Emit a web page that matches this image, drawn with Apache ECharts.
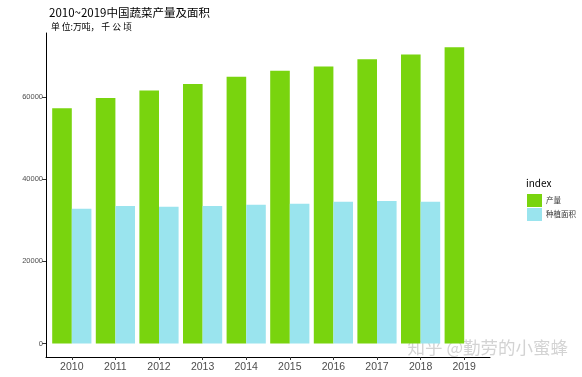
<!DOCTYPE html>
<html><head><meta charset="utf-8">
<script src="https://cdn.jsdelivr.net/npm/echarts@6/dist/echarts.min.js"></script>
<style>html,body{margin:0;padding:0;background:#fff}#c{width:582px;height:377px}</style>
</head><body><div id="c"></div>
<script>
const years = ['2010','2011','2012','2013','2014','2015','2016','2017','2018','2019'];
const output = [57265, 59767, 61625, 63198, 64949, 66425, 67434, 69193, 70347, 72103];
const area = [32800, 33500, 33300, 33500, 33800, 34000, 34500, 34700, 34500, null];
const yTicks = [0, 20000, 40000, 60000];
const seriesNames = ['产量', '种植面积'];

const chart = echarts.init(document.getElementById('c'), null, {renderer: 'canvas'});
const font = '"Noto Sans CJK SC", "DejaVu Sans", sans-serif';
chart.setOption({
  backgroundColor: '#fff',
  animation: false,
  title: [
    {text: '2010~2019中国蔬菜产量及面积', left: 44, top: 2,
     textStyle: {fontSize: 11.5, fontWeight: 'normal', color: '#000', fontFamily: font}},
    {text: '单 位:万吨， 千 公 顷', left: 46, top: 17,
     textStyle: {fontSize: 8.8, fontWeight: 'normal', color: '#000', fontFamily: font}},
    {text: 'index', left: 521, top: 173,
     textStyle: {fontSize: 10, fontWeight: 'normal', color: '#000', fontFamily: font}}
  ],
  legend: {
    orient: 'vertical', left: 522, top: 189, itemWidth: 15, itemHeight: 13, itemGap: 1,
    icon: 'rect', data: seriesNames,
    textStyle: {fontSize: 7.5, color: '#333', fontFamily: font, padding: [0,0,0,-1]}
  },
  grid: [
    {left: 50, width: 436, top: 33, bottom: 20, containLabel: false},
    {left: 46, width: 444, top: 33, bottom: 20, containLabel: false}
  ],
  xAxis: [{
    type: 'category', data: years, boundaryGap: true, gridIndex: 0,
    axisLine: {show: false, onZero: false},
    axisTick: {show: true, alignWithLabel: true, length: 3, lineStyle: {color: '#333'}},
    axisLabel: {fontSize: 10.5, color: '#4d4d4d', margin: 5, fontFamily: '"Liberation Sans", Arial, sans-serif'},
    splitLine: {show: false}
  }, {
    type: 'category', data: [], gridIndex: 1,
    axisLine: {show: true, onZero: false, lineStyle: {color: '#000', width: 1}},
    axisTick: {show: false}, axisLabel: {show: false}, splitLine: {show: false}
  }],
  yAxis: [{
    type: 'value', min: -3300, max: 75600, offset: 4, gridIndex: 0,
    axisLine: {show: true, lineStyle: {color: '#000', width: 1}},
    axisTick: {show: true, length: 4, customValues: yTicks, lineStyle: {color: '#333'}},
    axisLabel: {fontSize: 7.5, color: '#4d4d4d', margin: 3, customValues: yTicks,
      formatter: v => String(v),
      fontFamily: '"Liberation Sans", Arial, sans-serif'},
    splitLine: {show: false}
  }, {
    type: 'value', gridIndex: 1, show: false
  }],
  series: [
    {name: seriesNames[0], type: 'bar', data: output, barWidth: 19.6, barGap: '0%',
     itemStyle: {color: '#79D40E'}},
    {name: seriesNames[1], type: 'bar', data: area, barWidth: 19.6, barGap: '0%',
     itemStyle: {color: '#9AE4EE'}}
  ],
  graphic: [
    {type: 'text', left: 407, top: 338, silent: true,
     style: {text: '知乎 @勤劳的小蜜蜂', fontSize: 17.5, fill: 'rgba(200,200,200,0.8)',
       stroke: 'rgba(255,255,255,0.6)', lineWidth: 1, fontFamily: font}}
  ]
});
</script></body></html>
